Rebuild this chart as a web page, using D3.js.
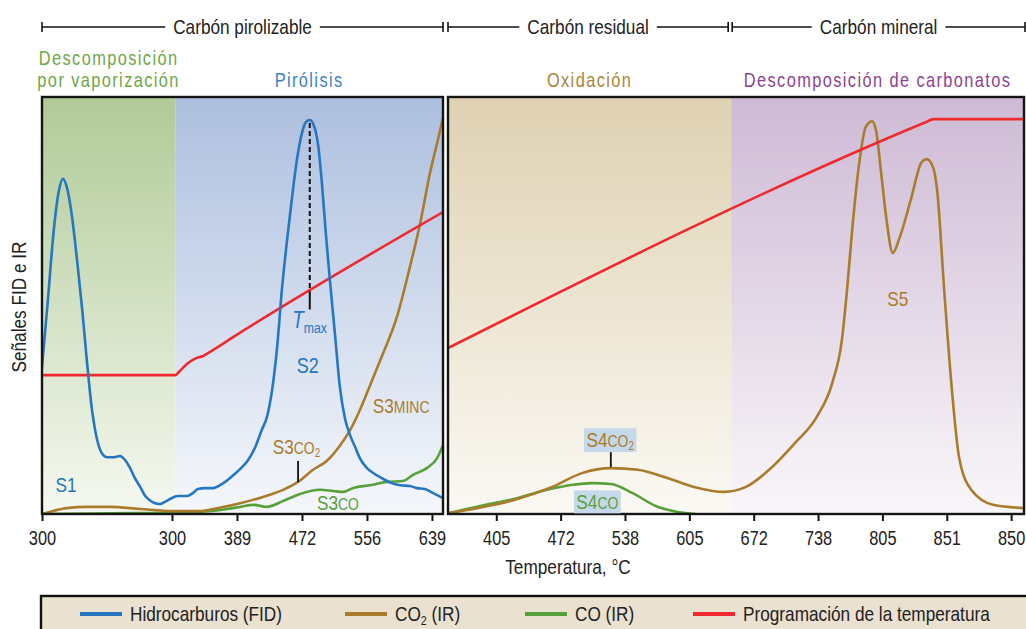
<!DOCTYPE html>
<html>
<head>
<meta charset="utf-8">
<script src="https://cdn.jsdelivr.net/npm/d3@7"></script>
<style>
body { margin: 0; background: #fff; }
svg text { font-family: "Liberation Sans", Arial, sans-serif; }
</style>
</head>
<body>
<svg id="chart" width="1026" height="629"></svg>
<script>
// eje x en unidades de tiempo del programa (una division = un tick)
const ticksIzq = [0, 2, 3, 4, 5, 6];
const etiquetasIzq = ['300', '300', '389', '472', '556', '639'];
const ticksDer = [1, 2, 3, 4, 5, 6, 7, 8, 9];
const etiquetasDer = ['405', '472', '538', '605', '672', '738', '805', '851', '850'];

// limites de las zonas de cada panel
const zonasIzq = [0, 2.05, 6.17];
const zonasDer = [0.25, 4.65, 9.2];

// senal FID (hidrocarburos), panel de pirolisis
const fidIzq = [[0,35.2],[0.09,51.2],[0.18,67.9],[0.26,77.5],[0.32,80.4],[0.38,78.5],[0.46,71.5],[0.54,60.8],
  [0.62,48.8],[0.69,36.8],[0.77,24.9],[0.85,17.7],[0.92,14.6],[1.0,13.6],[1.09,13.6],[1.2,13.9],[1.28,12.9],
  [1.35,11.2],[1.43,8.6],[1.51,6.5],[1.58,4.5],[1.66,3.3],[1.74,2.6],[1.82,2.4],[1.89,2.9],[1.97,3.6],
  [2.09,4.3],[2.23,4.3],[2.32,5.0],[2.4,6.0],[2.51,6.2],[2.63,6.2],[2.77,7.2],[2.89,8.6],[3.05,10.8],
  [3.17,12.9],[3.28,16.0],[3.38,20.1],[3.46,23.2],[3.54,29.7],[3.62,40.4],[3.69,53.6],[3.77,65.6],
  [3.85,76.3],[3.92,84.7],[4.0,91.4],[4.06,94.0],[4.12,94.5],[4.18,93.3],[4.25,88.3],[4.31,78.7],
  [4.37,66.7],[4.43,56.0],[4.51,42.8],[4.58,30.9],[4.66,23.0],[4.74,18.9],[4.82,16.0],[4.89,13.4],
  [5.0,11.0],[5.12,9.6],[5.25,8.4],[5.38,7.4],[5.51,6.9],[5.66,6.7],[5.77,6.2],[5.89,6.0],[6.02,5.0],[6.17,3.8]];

// CO2 (IR)
const co2Izq = [[0,0],[0.38,1.4],[0.69,1.7],[1.05,1.7],[1.51,1.2],[2.02,0.7],[2.43,0.7],[2.69,1.4],
  [3.05,2.6],[3.4,4.1],[3.71,5.8],[3.94,7.7],[4.17,10.6],[4.38,12.7],[4.58,16.3],[4.74,20.1],[4.89,24.9],
  [5.08,32.1],[5.25,38.6],[5.46,47.2],[5.66,59.2],[5.82,69.8],[5.97,81.8],[6.08,89.0],[6.17,95.0]];
const co2Der = [[0.25,0.2],[0.7,1.4],[1.29,3.4],[1.87,6.5],[2.33,9.8],[2.78,11.0],[3.2,10.6],[3.61,8.9],
  [4.07,6.5],[4.54,5.3],[4.88,6.5],[5.24,10.6],[5.64,17.0],[5.98,23.3],[6.22,31.4],[6.37,41.7],
  [6.45,53.7],[6.54,69.8],[6.64,84.2],[6.74,92.8],[6.84,94.2],[6.9,92.1],[6.98,81.8],[7.07,69.8],
  [7.16,62.6],[7.27,66.4],[7.44,75.3],[7.61,84.4],[7.69,85.1],[7.79,83.0],[7.85,77.7],[7.96,53.7],
  [8.08,29.7],[8.19,13.7],[8.38,5.8],[8.72,2.2],[9.2,1.4]];

// CO (IR)
const coIzq = [[0,0],[1.4,0.2],[2.43,0.5],[2.85,1.2],[3.05,1.7],[3.25,2.2],[3.46,1.7],[3.71,3.1],
  [3.97,4.8],[4.28,5.8],[4.48,5.5],[4.63,5.3],[4.78,6.2],[5.09,7.0],[5.31,7.7],[5.55,7.9],[5.71,9.4],
  [5.92,11.0],[6.08,13.4],[6.17,16.5]];
const coDer = [[0.25,0.2],[0.75,1.9],[1.32,3.8],[1.79,5.8],[2.19,7.0],[2.49,7.4],[2.78,7.2],[3.12,5.0],
  [3.48,1.9],[3.82,0.5],[4.1,0]];

// programacion de la temperatura
const tempIzq = [[0,33.3],[2.05,33.3],[2.12,34.3],[2.23,36.0],[2.35,37.2],[2.48,37.9],[2.63,39.3],[2.94,42.4],[6.17,72.4]];
const tempDer = [[0.25,39.8],[7.68,94.0],[7.79,94.7],[9.2,94.7]];

const tmax = 4.12;

const azul = '#2477c0', ocre = '#a97c2c', verde = '#58a03a', rojo = '#ee2a2f';
const SX = 0.82; // letra condensada

const svg = d3.select('#chart');
const xL = d3.scaleLinear().domain([zonasIzq[0], zonasIzq[2]]).range([42, 443]);
const xR = d3.scaleLinear().domain([zonasDer[0], zonasDer[2]]).range([448, 1024]);
const y = d3.scaleLinear().domain([0, 100]).range([514, 97]);

function interp(arr, t) {
  for (let i = 0; i < arr.length - 1; i++) {
    if (t >= arr[i][0] && t <= arr[i+1][0]) {
      const k = (t - arr[i][0]) / (arr[i+1][0] - arr[i][0]);
      return arr[i][1] + k * (arr[i+1][1] - arr[i][1]);
    }
  }
  return arr[arr.length-1][1];
}

// texto condensado: grupo con escala horizontal
function texto(x, yy, partes, opt) {
  opt = opt || {};
  const g = svg.append('g').attr('transform', 'translate(' + x + ',' + yy + ')' + (opt.rot ? ' rotate(' + opt.rot + ')' : '') + ' scale(' + (opt.sx || SX) + ',1)');
  const t = g.append('text').attr('x', 0).attr('y', 0).attr('text-anchor', opt.anchor || 'start')
    .attr('font-size', opt.size || 21).attr('fill', opt.color || '#222');
  if (opt.ls) t.attr('letter-spacing', opt.ls);
  partes.forEach(p => {
    const ts = t.append('tspan').text(p.t);
    if (p.s) ts.attr('font-size', p.s);
    if (p.dy) ts.attr('dy', p.dy);
    if (p.i) ts.attr('font-style', 'italic');
  });
  if (opt.fondo) {
    const bb = t.node().getBBox();
    g.insert('rect', 'text').attr('x', bb.x - 3).attr('y', bb.y).attr('width', bb.width + 6).attr('height', bb.height).attr('fill', opt.fondo);
  }
  return { g: g, t: t };
}

const defs = svg.append('defs');
function gradiente(id, arriba, abajo) {
  const g = defs.append('linearGradient').attr('id', id).attr('x1', 0).attr('y1', 0).attr('x2', 0).attr('y2', 1);
  g.append('stop').attr('offset', '0%').attr('stop-color', arriba);
  g.append('stop').attr('offset', '100%').attr('stop-color', abajo);
}
gradiente('gVerde', '#b1ca97', '#f5f8f0');
gradiente('gAzul', '#adbfdf', '#f5f7fb');
gradiente('gOcre', '#dfd1b2', '#fbf9f4');
gradiente('gMorado', '#cebad5', '#f9f6f9');

// fondos de zonas
function zona(x, a, b, fill) {
  svg.append('rect').attr('x', x(a)).attr('y', y(100)).attr('width', x(b) - x(a)).attr('height', y(0) - y(100)).attr('fill', fill);
}
zona(xL, zonasIzq[0], zonasIzq[1], 'url(#gVerde)');
zona(xL, zonasIzq[1], zonasIzq[2], 'url(#gAzul)');
zona(xR, zonasDer[0], zonasDer[1], 'url(#gOcre)');
zona(xR, zonasDer[1], zonasDer[2], 'url(#gMorado)');

defs.append('clipPath').attr('id', 'clipL').append('rect').attr('x', xL(zonasIzq[0])).attr('y', y(100)).attr('width', xL(zonasIzq[2]) - xL(zonasIzq[0])).attr('height', y(0) - y(100));
defs.append('clipPath').attr('id', 'clipR').append('rect').attr('x', xR(zonasDer[0])).attr('y', y(100)).attr('width', xR(zonasDer[2]) - xR(zonasDer[0])).attr('height', y(0) - y(100));

function curva(g, datos, x, color) {
  const line = d3.line().x(d => x(d[0])).y(d => y(d[1])).curve(d3.curveMonotoneX);
  g.append('path').datum(datos).attr('d', line).attr('fill', 'none').attr('stroke', color)
    .attr('stroke-width', 2.6).attr('stroke-linejoin', 'round');
}

const gL = svg.append('g').attr('clip-path', 'url(#clipL)');
curva(gL, coIzq, xL, verde);
curva(gL, co2Izq, xL, ocre);
curva(gL, tempIzq, xL, rojo);
curva(gL, fidIzq, xL, azul);

const gR = svg.append('g').attr('clip-path', 'url(#clipR)');
curva(gR, coDer, xR, verde);
curva(gR, co2Der, xR, ocre);
curva(gR, tempDer, xR, rojo);

// Tmax
const yRojoTmax = y(interp(tempIzq, tmax));
svg.append('line').attr('x1', xL(tmax)).attr('x2', xL(tmax)).attr('y1', y(d3.max(fidIzq, d => d[1])) + 3).attr('y2', yRojoTmax)
  .attr('stroke', '#111').attr('stroke-width', 2).attr('stroke-dasharray', '5,3');
svg.append('line').attr('x1', xL(tmax)).attr('x2', xL(tmax)).attr('y1', yRojoTmax).attr('y2', yRojoTmax + 18)
  .attr('stroke', '#111').attr('stroke-width', 2);

// marcas S3CO2 y S4CO2
const tS3 = 3.94, tS4 = 2.78;
svg.append('line').attr('x1', xL(tS3)).attr('x2', xL(tS3)).attr('y1', y(interp(co2Izq, tS3))).attr('y2', y(interp(co2Izq, tS3)) - 21)
  .attr('stroke', '#111').attr('stroke-width', 1.8);
svg.append('line').attr('x1', xR(tS4)).attr('x2', xR(tS4)).attr('y1', y(interp(co2Der, tS4)) - 1).attr('y2', y(interp(co2Der, tS4)) - 16)
  .attr('stroke', '#111').attr('stroke-width', 1.8);

// marcos de los paneles
[[xL, zonasIzq], [xR, zonasDer]].forEach(([x, z]) => {
  svg.append('rect').attr('x', x(z[0])).attr('y', y(100)).attr('width', x(z[2]) - x(z[0])).attr('height', y(0) - y(100))
    .attr('fill', 'none').attr('stroke', '#151515').attr('stroke-width', 2.4);
});

// ejes
function eje(x, ticks, etiquetas) {
  const ax = d3.axisBottom(x).tickValues(ticks).tickFormat((d, i) => etiquetas[i]).tickSize(7).tickPadding(9).tickSizeOuter(0);
  const g = svg.append('g').attr('transform', 'translate(0,' + y(0) + ')').call(ax);
  g.select('.domain').remove();
  g.selectAll('line').attr('stroke', '#111').attr('stroke-width', 2);
  g.selectAll('text').attr('font-size', 21).attr('fill', '#222').attr('transform', 'scale(0.78,1)')
    .style('font-family', '"Liberation Sans", Arial, sans-serif');
}
eje(xL, ticksIzq, etiquetasIzq);
eje(xR, ticksDer, etiquetasDer);

texto(568, 574, [{ t: 'Temperatura, °C' }], { anchor: 'middle' });
texto(26, 307, [{ t: 'Señales FID e IR' }], { anchor: 'middle', rot: -90 });

// encabezado
const segmentos = [
  { texto: 'Carbón pirolizable', a: xL(zonasIzq[0]), b: xL(zonasIzq[2]) },
  { texto: 'Carbón residual', a: xR(zonasDer[0]), b: xR(zonasDer[1]) - 3 },
  { texto: 'Carbón mineral', a: xR(zonasDer[1]) + 1, b: xR(zonasDer[2]) + 1 }
];
segmentos.forEach(s => {
  const mid = (s.a + s.b) / 2;
  const tx = texto(mid, 34, [{ t: s.texto }], { anchor: 'middle' });
  const w = tx.t.node().getBBox().width * SX;
  const hdr = svg.append('g').attr('stroke', '#111').attr('stroke-width', 1.6);
  hdr.append('line').attr('x1', s.a).attr('x2', mid - w / 2 - 8).attr('y1', 27).attr('y2', 27);
  hdr.append('line').attr('x1', mid + w / 2 + 8).attr('x2', s.b).attr('y1', 27).attr('y2', 27);
  hdr.append('line').attr('x1', s.a).attr('x2', s.a).attr('y1', 22).attr('y2', 32);
  hdr.append('line').attr('x1', s.b).attr('x2', s.b).attr('y1', 22).attr('y2', 32);
});

// titulos de zonas
const sub = (x, yy, txt, color) => texto(x, yy, [{ t: txt }], { anchor: 'middle', size: 20, ls: 1.7, color: color });
const cVerde = (xL(zonasIzq[0]) + xL(zonasIzq[1])) / 2;
sub(cVerde, 65, 'Descomposición', '#6ea64a');
sub(cVerde, 87, 'por vaporización', '#6ea64a');
sub((xL(zonasIzq[1]) + xL(zonasIzq[2])) / 2, 87, 'Pirólisis', '#3b82c4');
sub((xR(zonasDer[0]) + xR(zonasDer[1])) / 2, 87, 'Oxidación', '#a9843a');
sub((xR(zonasDer[1]) + xR(zonasDer[2])) / 2, 87, 'Descomposición de carbonatos', '#8e3f92');

// etiquetas de picos
function etiqueta(x, t, v, partes, color, anchor, fondo) {
  return texto(x(t), y(v), partes, { anchor: anchor || 'start', color: color, fondo: fondo, size: 21 });
}
etiqueta(xL, 0.37, 5.3, [{ t: 'S1', s: 21 }], azul, 'middle');
etiqueta(xL, 4.09, 33.8, [{ t: 'S2', s: 22 }], azul, 'middle');
etiqueta(xL, 3.85, 44.6, [{ t: 'T', s: 23, i: true }, { t: 'max', s: 15, dy: 5 }], azul);
etiqueta(xL, 3.55, 14.4, [{ t: 'S3', s: 21 }, { t: 'CO', s: 17 }, { t: '2', s: 12, dy: 3 }], ocre);
etiqueta(xL, 5.09, 24.2, [{ t: 'S3', s: 21 }, { t: 'MINC', s: 17 }], ocre);
etiqueta(xL, 4.23, 1.0, [{ t: 'S3', s: 21 }, { t: 'CO', s: 17 }], verde);
etiqueta(xR, 2.77, 16.1, [{ t: 'S4', s: 21 }, { t: 'CO', s: 17 }, { t: '2', s: 12, dy: 3 }], ocre, 'middle', '#c6d9ea');
etiqueta(xR, 2.57, 1.2, [{ t: 'S4', s: 21 }, { t: 'CO', s: 17 }], verde, 'middle', '#c6d9ea');
etiqueta(xR, 7.24, 49.9, [{ t: 'S5', s: 21 }], ocre, 'middle');

// leyenda
svg.append('rect').attr('x', 41).attr('y', 596).attr('width', 1000).attr('height', 50).attr('fill', '#ebe1d1').attr('stroke', '#111').attr('stroke-width', 2.4);
const leyenda = [
  { color: azul, x: 80, partes: [{ t: 'Hidrocarburos (FID)' }] },
  { color: ocre, x: 345, partes: [{ t: 'CO' }, { t: '2', s: 13, dy: 4 }, { t: ' (IR)', dy: -4 }] },
  { color: verde, x: 525, partes: [{ t: 'CO (IR)' }] },
  { color: rojo, x: 693, partes: [{ t: 'Programación de la temperatura' }] }
];
leyenda.forEach(l => {
  svg.append('line').attr('x1', l.x).attr('x2', l.x + 42).attr('y1', 614).attr('y2', 614).attr('stroke', l.color).attr('stroke-width', 4);
  texto(l.x + 50, 621, l.partes, {});
});
</script>
</body>
</html>
